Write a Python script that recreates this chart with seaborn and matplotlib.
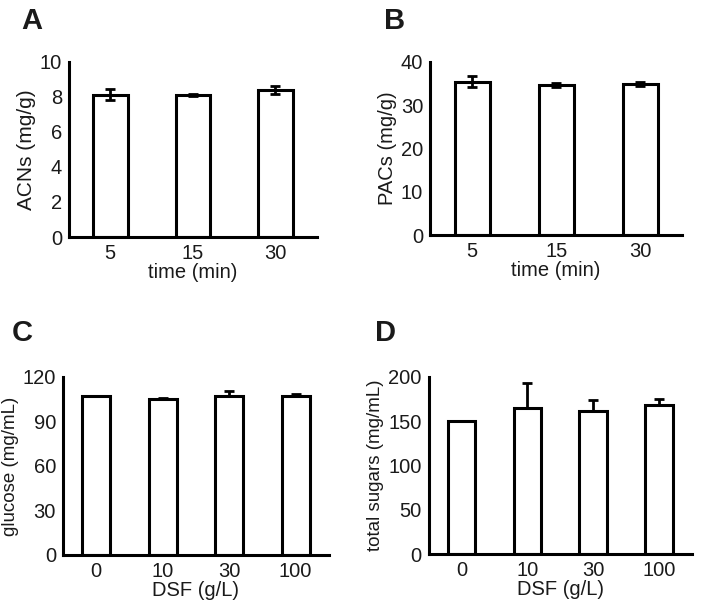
import matplotlib
matplotlib.use("Agg")
import matplotlib.pyplot as plt
import seaborn as sns
import pandas as pd
import numpy as np

# panel A / B : extraction time
time_labels = ['5', '15', '30']
acns = [8.13, 8.1, 8.4]
acns_err = [0.3, 0.05, 0.23]
pacs = [35.4, 34.6, 34.8]
pacs_err = [1.2, 0.4, 0.5]

# panel C / D : DSF dose
dsf_labels = ['0', '10', '30', '100']
glucose = [107.0, 105.0, 107.5, 107.5]
glucose_err = [0.3, 0.6, 3.2, 1.2]
sugars = [150.0, 164.5, 162.0, 168.0]
sugars_err = [0.5, 29.0, 12.5, 7.0]

sns.set_style('white')
plt.rcParams['font.family'] = ['Liberation Sans', 'DejaVu Sans']
plt.rcParams['text.color'] = '#1a1a1a'
plt.rcParams['axes.labelcolor'] = '#1a1a1a'
plt.rcParams['xtick.color'] = '#1a1a1a'
plt.rcParams['ytick.color'] = '#1a1a1a'
FS = 14.5


def bar_panel(ax, labels, vals, errs, ylabel, xlabel, ymax, yticks, both_sides, ylab_fs):
    df = pd.DataFrame({'x': labels, 'y': vals})
    sns.barplot(data=df, x='x', y='y', ax=ax, color='white', edgecolor='black',
                linewidth=2.2, width=0.42, errorbar=None, order=labels)
    lower = errs if both_sides else [0] * len(errs)
    ax.errorbar(np.arange(len(labels)), vals, yerr=[lower, errs], fmt='none',
                ecolor='black', elinewidth=2, capsize=3.5, capthick=2, zorder=5)
    ax.set_xlim(-0.5, len(labels) - 0.5)
    ax.set_ylim(0, ymax)
    ax.set_yticks(yticks)
    ax.set_xticks(range(len(labels)))
    ax.set_xticklabels(labels)
    ax.set_xticks(np.arange(-0.5, len(labels)), minor=True)
    ax.tick_params(axis='x', which='major', length=0, pad=5, labelsize=FS)
    ax.tick_params(axis='x', which='minor', length=4, width=2, direction='out', color='black')
    ax.tick_params(axis='y', length=3, width=2, direction='out', color='black', pad=2, labelsize=FS)
    for s in ['top', 'right']:
        ax.spines[s].set_visible(False)
    for s in ['left', 'bottom']:
        ax.spines[s].set_linewidth(2.2)
        ax.spines[s].set_color('black')
    ax.set_xlabel(xlabel, fontsize=FS, labelpad=0)
    ax.set_ylabel(ylabel, fontsize=ylab_fs, labelpad=3)


fig = plt.figure(figsize=(7.04, 6.11), dpi=100)
axA = fig.add_axes([0.098, 0.612, 0.352, 0.287])
axB = fig.add_axes([0.611, 0.615, 0.358, 0.284])
axC = fig.add_axes([0.0895, 0.092, 0.3775, 0.291])
axD = fig.add_axes([0.609, 0.093, 0.374, 0.290])

bar_panel(axA, time_labels, acns, acns_err, 'ACNs (mg/g)', 'time (min)', 10, [0, 2, 4, 6, 8, 10], True, 15)
bar_panel(axB, time_labels, pacs, pacs_err, 'PACs (mg/g)', 'time (min)', 40, [0, 10, 20, 30, 40], True, 14.5)
bar_panel(axC, dsf_labels, glucose, glucose_err, 'glucose (mg/mL)', 'DSF (g/L)', 120, [0, 30, 60, 90, 120], False, 13.5)
bar_panel(axD, dsf_labels, sugars, sugars_err, 'total sugars (mg/mL)', 'DSF (g/L)', 200, [0, 50, 100, 150, 200], False, 13.5)

for lab, x, y in [('A', 0.030, 0.966), ('B', 0.546, 0.966), ('C', 0.017, 0.455), ('D', 0.533, 0.455)]:
    fig.text(x, y, lab, fontsize=21, fontweight='bold', va='center', ha='left')

fig.savefig('out.png', dpi=100)
